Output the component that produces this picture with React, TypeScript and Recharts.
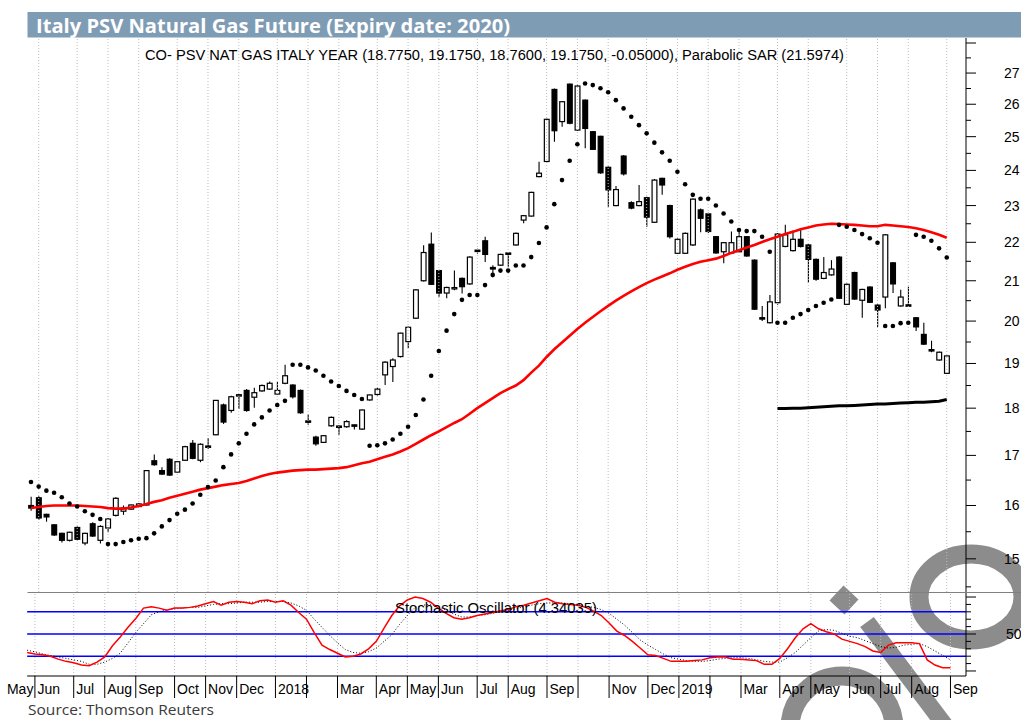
import React from 'react';
import { ComposedChart, Bar, Line, XAxis, YAxis, ReferenceLine } from 'recharts';

// ---------- DATA (weekly candles, Fri 26 May 2017 .. Fri 6 Sep 2019) ----------
const opens = [
  16.00, 16.15, 15.83, 15.63, 15.47, 15.34, 15.58, 15.29, 15.65, 15.34,
  15.57, 15.81, 15.89, 15.93, 15.98, 16.01, 16.89, 16.69, 16.92, 16.66,
  16.90, 17.25, 16.90, 17.19, 17.43, 18.07, 17.95, 18.27, 18.39, 18.24,
  18.38, 18.42, 18.31, 18.55, 18.51, 18.39, 17.72, 17.38, 17.27, 17.62,
  17.61, 17.60, 17.63, 17.55, 18.18, 18.30, 18.74, 18.93, 19.16, 19.51,
  20.07, 21.00, 21.95, 21.26, 20.69, 20.80, 21.06, 20.92, 21.79, 22.04,
  21.34, 21.40, 21.71, 21.93, 22.60, 22.71, 23.82, 24.26, 26.47, 25.46,
  26.64, 25.20, 26.13, 25.15, 25.01, 24.09, 23.00, 24.42, 23.08, 23.00,
  23.22, 22.54, 23.77, 23.00, 21.71, 21.71, 21.93, 22.88, 22.77, 22.15,
  21.75, 21.72, 21.75, 22.15, 21.53, 20.08, 19.96, 20.45, 21.89, 21.78,
  22.08, 21.93, 21.55, 21.06, 21.15, 21.61, 20.41, 21.21, 20.51, 20.84,
  20.39, 20.59, 21.46, 20.37, 20.39, 20.08, 19.68, 19.32, 19.08, 18.775,
];
const highs = [
  16.17, 16.18, 15.84, 15.64, 15.48, 15.50, 15.60, 15.48, 15.68, 15.62,
  15.76, 16.16, 16.00, 16.02, 16.05, 16.70, 17.02, 16.76, 16.94, 16.88,
  17.20, 17.32, 17.25, 17.36, 18.18, 18.10, 18.27, 18.31, 18.42, 18.45,
  18.52, 18.59, 18.58, 18.97, 18.53, 18.41, 17.86, 17.41, 17.42, 17.82,
  17.63, 17.74, 17.64, 17.97, 18.30, 18.45, 19.05, 19.12, 19.72, 19.87,
  20.79, 21.92, 22.26, 21.28, 20.85, 21.26, 21.08, 21.63, 21.83, 22.15,
  21.40, 21.70, 21.73, 22.26, 22.74, 23.39, 24.25, 25.55, 26.50, 26.10,
  26.66, 26.60, 26.15, 25.17, 25.03, 24.11, 23.55, 24.45, 23.12, 23.58,
  23.25, 23.75, 23.79, 23.02, 22.10, 22.26, 23.20, 22.92, 22.80, 22.17,
  22.01, 22.29, 22.38, 22.17, 21.55, 20.37, 20.64, 22.25, 22.47, 22.32,
  22.34, 21.95, 21.57, 21.61, 21.53, 21.63, 20.93, 21.23, 20.80, 20.86,
  20.41, 22.22, 21.48, 20.77, 20.85, 20.10, 19.96, 19.53, 19.28, 19.175,
];
const lows = [
  15.90, 15.72, 15.69, 15.42, 15.30, 15.32, 15.34, 15.25, 15.40, 15.28,
  15.49, 15.79, 15.82, 15.92, 15.97, 16.00, 16.79, 16.60, 16.58, 16.65,
  16.89, 16.92, 16.86, 17.13, 17.42, 17.66, 17.90, 17.98, 17.92, 18.01,
  18.36, 18.40, 18.30, 18.53, 18.21, 17.88, 17.64, 17.20, 17.26, 17.60,
  17.43, 17.58, 17.54, 17.53, 18.16, 18.28, 18.51, 18.58, 19.14, 19.36,
  20.05, 20.98, 20.89, 20.60, 20.56, 20.76, 20.68, 20.90, 21.70, 21.48,
  21.09, 21.38, 21.36, 21.91, 22.51, 22.70, 23.80, 24.24, 24.85, 25.30,
  25.38, 25.18, 24.65, 24.60, 23.90, 22.97, 22.98, 23.85, 22.90, 22.98,
  22.42, 22.52, 23.30, 22.10, 21.70, 21.69, 21.90, 22.27, 22.25, 21.70,
  21.45, 21.70, 21.73, 21.62, 20.27, 20.00, 19.94, 20.40, 21.87, 21.76,
  21.86, 20.95, 21.00, 21.04, 21.13, 20.54, 20.39, 20.52, 20.08, 20.44,
  19.86, 20.31, 20.69, 20.35, 20.36, 19.76, 19.43, 19.26, 19.06, 18.76,
];
const closes = [
  15.95, 15.76, 15.78, 15.44, 15.34, 15.49, 15.36, 15.47, 15.42, 15.60,
  15.74, 16.14, 15.95, 16.01, 16.03, 16.69, 16.81, 16.62, 16.60, 16.87,
  17.18, 16.94, 17.23, 17.17, 18.17, 17.70, 18.25, 18.29, 17.95, 18.34,
  18.50, 18.55, 18.39, 18.72, 18.25, 17.90, 17.70, 17.24, 17.41, 17.80,
  17.59, 17.71, 17.62, 17.96, 18.29, 18.42, 19.03, 19.08, 19.71, 19.85,
  20.77, 21.73, 20.91, 20.69, 20.83, 20.82, 20.85, 21.61, 21.76, 21.68,
  21.30, 21.68, 21.69, 22.24, 22.72, 23.37, 23.92, 25.53, 25.18, 26.08,
  25.41, 26.58, 25.25, 24.62, 23.93, 23.44, 23.45, 23.90, 22.93, 23.11,
  22.68, 23.72, 23.58, 22.15, 22.08, 22.24, 23.18, 22.65, 22.29, 21.72,
  21.99, 21.99, 22.15, 21.64, 20.29, 20.05, 20.47, 22.22, 22.20, 22.08,
  21.89, 21.55, 21.04, 21.21, 21.30, 20.56, 20.91, 20.54, 20.78, 20.46,
  20.27, 22.20, 20.92, 20.59, 20.37, 19.86, 19.45, 19.29, 19.26, 19.175,
];
const sar = [
  16.46, 16.37, 16.29, 16.25, 16.16, 16.04, 15.98, 15.89, 15.82, 15.74,
  15.27, 15.27, 15.31, 15.34, 15.37, 15.38, 15.47, 15.60, 15.72, 15.84,
  15.92, 16.04, 16.21, 16.36, 16.49, 16.76, 17.02, 17.25, 17.45, 17.65,
  17.80, 17.95, 18.07, 18.16, 18.97, 18.97, 18.91, 18.84, 18.72, 18.59,
  18.49, 18.38, 18.29, 18.20, 17.20, 17.21, 17.25, 17.33, 17.45, 17.60,
  17.85, 18.19, 18.72, 19.29, 19.77, 20.17, 20.52, 20.64, 20.64, 20.89,
  21.15, 21.26, 21.26, 21.39, 21.39, 21.61, 21.98, 22.40, 23.04, 23.72,
  24.28, 24.77, 26.66, 26.61, 26.51, 26.38, 26.13, 25.87, 25.61, 25.35,
  25.10, 24.82, 24.53, 24.28, 23.96, 23.60, 23.30, 23.19, 23.19, 23.00,
  22.78, 22.56, 22.33, 22.30, 22.30, 22.15, 21.75, 19.96, 19.96, 20.08,
  20.17, 20.27, 20.37, 20.45, 20.53, 22.47, 22.42, 22.33, 22.22, 22.11,
  21.99, 19.88, 19.88, 19.95, 19.96, 22.20, 22.15, 22.04, 21.84, 21.60,
];
const movingAvg = [
  15.95, 15.97, 15.99, 16.00, 16.00, 16.00, 16.00, 15.99, 15.98, 15.97,
  15.95, 15.94, 15.94, 15.96, 15.99, 16.03, 16.07, 16.10, 16.15, 16.19,
  16.23, 16.27, 16.31, 16.34, 16.37, 16.40, 16.42, 16.44, 16.48, 16.53,
  16.58, 16.62, 16.65, 16.67, 16.69, 16.70, 16.71, 16.71, 16.72, 16.73,
  16.74, 16.76, 16.80, 16.84, 16.87, 16.92, 16.97, 17.02, 17.08, 17.15,
  17.24, 17.33, 17.42, 17.50, 17.59, 17.68, 17.76, 17.88, 18.00, 18.11,
  18.22, 18.33, 18.42, 18.50, 18.62, 18.79, 18.95, 19.15, 19.33, 19.49,
  19.65, 19.81, 19.96, 20.10, 20.24, 20.37, 20.50, 20.62, 20.73, 20.84,
  20.94, 21.03, 21.11, 21.19, 21.28, 21.36, 21.43, 21.49, 21.53, 21.57,
  21.64, 21.72, 21.79, 21.86, 21.93, 22.01, 22.08, 22.15, 22.22, 22.28,
  22.35, 22.40, 22.45, 22.48, 22.50, 22.49, 22.48, 22.47, 22.45, 22.43,
  22.43, 22.47, 22.45, 22.43, 22.41, 22.38, 22.33, 22.27, 22.20, 22.12,
];
const levelStart = 97;
const levelValues = [
  17.99, 17.99, 18.00, 18.00, 18.01, 18.02, 18.03, 18.04, 18.05, 18.05,
  18.06, 18.07, 18.08, 18.09, 18.09, 18.10, 18.11, 18.12, 18.13, 18.13,
  18.14, 18.15, 18.19,
];
const stochK = [
  25, 23, 22, 20, 16, 13, 11, 8, 7, 12,
  19, 34, 46, 59, 71, 85, 87, 85, 82, 85,
  85, 86, 88, 91, 94, 89, 93, 94, 93, 91,
  95, 96, 93, 95, 89, 79, 70, 52, 35, 29,
  24, 19, 20, 23, 30, 40, 58, 75, 88, 96,
  100, 98, 93, 85, 78, 72, 70, 72, 75, 77,
  79, 81, 83, 87, 89, 92, 95, 98, 93, 91,
  90, 89, 86, 81, 75, 65, 54, 48, 40, 31,
  22, 21, 17, 13, 13, 13, 14, 15, 18, 19,
  19, 16, 16, 15, 14, 9, 9, 17, 30, 45,
  57, 64, 57, 53, 50, 43, 40, 37, 33, 27,
  25, 35, 38, 38, 38, 37, 15, 8, 4.5, 4.34,
];
const stochD = [
  28, 26, 23, 21, 19, 17, 15, 13, 9, 9,
  12, 17, 24, 38, 52, 64, 76, 80, 83, 84,
  85, 86, 86, 88, 90, 91, 91, 92, 93, 93,
  93, 94, 94, 94, 92, 88, 82, 70, 59, 48,
  38, 29, 25, 24, 26, 31, 40, 49, 63, 75,
  86, 89, 90, 87, 82, 77, 73, 73, 75, 76,
  78, 80, 82, 84, 87, 89, 91, 92, 92, 92,
  91, 90, 88, 86, 83, 78, 70, 62, 52, 42,
  35, 29, 23, 18, 16, 14, 13, 13, 14, 16,
  17, 18, 18, 17, 15, 13, 12, 12, 18, 25,
  35, 45, 54, 56, 55, 51, 47, 45, 41, 37,
  33, 31, 32, 35, 36, 37, 33, 27, 21, 15,
];
const monthTicks = [
  { i: -3, label: 'May' }, { i: 1, label: 'Jun' }, { i: 6, label: 'Jul' }, { i: 10, label: 'Aug' },
  { i: 14, label: 'Sep' }, { i: 19, label: 'Oct' }, { i: 23, label: 'Nov' }, { i: 27, label: 'Dec' },
  { i: 32, label: '2018' }, { i: 36, label: '' }, { i: 40, label: 'Mar' }, { i: 45, label: 'Apr' },
  { i: 49, label: 'May' }, { i: 53, label: 'Jun' }, { i: 58, label: 'Jul' }, { i: 62, label: 'Aug' },
  { i: 67, label: 'Sep' }, { i: 71, label: '' }, { i: 75, label: 'Nov' }, { i: 80, label: 'Dec' },
  { i: 84, label: '2019' }, { i: 88, label: '' }, { i: 92, label: 'Mar' }, { i: 97, label: 'Apr' },
  { i: 101, label: 'May' }, { i: 106, label: 'Jun' }, { i: 110, label: 'Jul' }, { i: 114, label: 'Aug' },
  { i: 119, label: 'Sep' },
];
const priceMajor = [15, 16, 17, 18, 19, 20, 21, 22, 23, 24, 25, 26, 27, 28];
const priceMinor = [14.5, 15.5, 16.5, 17.5, 18.5, 19.5, 20.5, 21.5, 22.5, 23.5, 24.5, 25.5, 26.5, 27.5];
const priceLabelMax = 27;
const stochTickValues = [0, 10, 20, 30, 40, 50, 60, 70, 80, 90, 100];
const stochMajor = [0, 50, 100];
const stochLabels = [50];
const stochBands = [20, 50, 80];

const TITLE = 'Italy PSV Natural Gas Future (Expiry date: 2020)';
const SUBTITLE = 'CO- PSV NAT GAS ITALY YEAR (18.7750, 19.1750, 18.7600, 19.1750, -0.05000), Parabolic SAR (21.5974)';
const STOCH_LABEL = 'Stochastic Oscillator (4.34035)';
const SOURCE = 'Source: Thomson Reuters';

// ---------- table built from the arrays ----------
const EXTRA_SLOTS = 2;
const rows = Array.from({ length: opens.length + EXTRA_SLOTS }, (_, i) => {
  if (i >= opens.length) return { i } as any;
  return {
    i,
    open: opens[i],
    high: highs[i],
    low: lows[i],
    close: closes[i],
    range: [lows[i], highs[i]],
    sar: sar[i],
    ma: movingAvg[i],
    level: i >= levelStart ? levelValues[i - levelStart] : null,
    k: stochK[i],
    d: stochD[i],
  };
});
const visibleTicks = monthTicks.filter((t) => t.i >= 0).map((t) => t.i);
const leadTick = monthTicks.find((t) => t.i < 0);

const AXIS_FONT = 'Liberation Sans, Arial, sans-serif';
const LEFT = 27.15;
const AXIS_W = 55;
const WIDTH = 1021;

const Candle = (props: any) => {
  const { x, y, width, height, payload } = props;
  if (!payload || payload.open == null || !isFinite(y) || !isFinite(height)) return null;
  const { open, close, high, low } = payload;
  const lh = Math.log(high);
  const ll = Math.log(low);
  const py = (v: number) => (lh === ll ? y : y + ((lh - Math.log(v)) / (lh - ll)) * height);
  const cx = x + width / 2;
  const up = close >= open;
  let top = py(Math.max(open, close));
  let bot = py(Math.min(open, close));
  if (bot - top < 1.4) {
    const m = (top + bot) / 2;
    top = m - 0.7;
    bot = m + 0.7;
  }
  return (
    <g>
      <line x1={cx} x2={cx} y1={y} y2={y + height} stroke="#000" strokeWidth={1.1} />
      <rect x={x + 0.6} y={top} width={width - 1.2} height={bot - top} fill={up ? '#fff' : '#000'} stroke="#000" strokeWidth={1.2} />
    </g>
  );
};

const PriceTick = (props: any) => {
  const { x, y, payload } = props;
  const v = payload.value;
  const major = priceMajor.includes(v);
  return (
    <g>
      <line x1={x} x2={x + (major ? 10 : 5)} y1={y} y2={y} stroke="#000" strokeWidth={1} />
      {major && v <= priceLabelMax ? (
        <text x={x + 38} y={y + 5} fontSize={14} fontFamily={AXIS_FONT} fill="#000">{v}</text>
      ) : null}
    </g>
  );
};

const StochTick = (props: any) => {
  const { x, y, payload } = props;
  const v = payload.value;
  const major = stochMajor.includes(v);
  return (
    <g>
      <line x1={x} x2={x + (major ? 10 : 5)} y1={y} y2={y} stroke="#000" strokeWidth={1} />
      {stochLabels.includes(v) ? (
        <text x={x + 40} y={y + 5} fontSize={14} fontFamily={AXIS_FONT} fill="#000">{v}</text>
      ) : null}
    </g>
  );
};

const MonthTick = (props: any) => {
  const { x, y, payload } = props;
  const t = monthTicks.find((m) => m.i === payload.value);
  const isFirst = payload.value === visibleTicks[0];
  return (
    <g>
      <line x1={x} x2={x} y1={y} y2={y + 22} stroke="#000" strokeWidth={1} />
      {t && t.label ? (
        <text x={x + 2.5} y={y + 18} fontSize={14} fontFamily={AXIS_FONT} fill="#000">{t.label}</text>
      ) : null}
      {isFirst && leadTick ? (
        <text x={x - 1.5} y={y + 18} fontSize={14} fontFamily={AXIS_FONT} fill="#000" textAnchor="end">{leadTick.label}</text>
      ) : null}
    </g>
  );
};

export default function App() {
  return (
    <div style={{ position: 'absolute', left: 0, top: 0, width: WIDTH, height: 720, background: '#fff', overflow: 'hidden' }}>
      {/* watermark (behind) */}
      <svg width={WIDTH} height={720} style={{ position: 'absolute', left: 0, top: 0 }}>
        <g fill="#8c8c8c">
          <rect x={-10.25} y={-10.25} width={20.5} height={20.5} transform="translate(844,600) rotate(43)" />
          <rect x={-8.5} y={0} width={17} height={170} transform="translate(867,622) rotate(-37)" />
        </g>
        <ellipse cx={971} cy={597} rx={52} ry={43} fill="none" stroke="#8c8c8c" strokeWidth={19} />
        <ellipse cx={842} cy={728} rx={52} ry={52} fill="none" stroke="#8c8c8c" strokeWidth={19} />
      </svg>

      {/* price panel */}
      <div style={{ position: 'absolute', left: 0, top: 0 }}>
        <ComposedChart width={WIDTH} height={592} data={rows} margin={{ top: 38, right: 0, bottom: 0, left: LEFT }}>
          <XAxis dataKey="i" type="category" hide />
          <YAxis
            yAxisId="p"
            orientation="right"
            scale="log"
            type="number"
            domain={[14.41, 28.17]}
            allowDataOverflow
            ticks={[...priceMinor, ...priceMajor].sort((a, b) => a - b)}
            interval={0}
            width={AXIS_W}
            tickSize={0}
            tickMargin={0}
            tickLine={false}
            axisLine={{ stroke: '#000', strokeWidth: 1 }}
            tick={(p: any) => <PriceTick {...p} />}
          />
          {visibleTicks.map((t) => (
            <ReferenceLine key={'g' + t} yAxisId="p" x={t} stroke="#bdbdbd" strokeDasharray="1 2" strokeWidth={1} />
          ))}
          <Line yAxisId="p" dataKey="ma" stroke="#ff0000" strokeWidth={2.6} dot={false} activeDot={false} isAnimationActive={false} />
          <Line yAxisId="p" dataKey="level" stroke="#000" strokeWidth={3} dot={false} activeDot={false} isAnimationActive={false} />
          <Bar yAxisId="p" dataKey="range" barSize={6} isAnimationActive={false} shape={(p: any) => <Candle {...p} />} />
          <Line
            yAxisId="p"
            dataKey="sar"
            stroke="none"
            dot={{ r: 2.3, fill: '#000', stroke: 'none' }}
            activeDot={false}
            isAnimationActive={false}
          />
        </ComposedChart>
      </div>

      {/* stochastic panel */}
      <div style={{ position: 'absolute', left: 0, top: 592 }}>
        <ComposedChart width={WIDTH} height={128} data={rows} margin={{ top: 0, right: 0, bottom: 0, left: LEFT }}>
          <XAxis
            dataKey="i"
            type="category"
            ticks={visibleTicks}
            interval={0}
            height={44}
            tickSize={0}
            tickMargin={0}
            tickLine={false}
            axisLine={{ stroke: '#000', strokeWidth: 1 }}
            tick={(p: any) => <MonthTick {...p} />}
          />
          <YAxis
            yAxisId="s"
            orientation="right"
            type="number"
            domain={[-6.8, 106.8]}
            allowDataOverflow
            ticks={stochTickValues}
            interval={0}
            width={AXIS_W}
            tickSize={0}
            tickMargin={0}
            tickLine={false}
            axisLine={{ stroke: '#000', strokeWidth: 1 }}
            tick={(p: any) => <StochTick {...p} />}
          />
          {visibleTicks.map((t) => (
            <ReferenceLine key={'s' + t} yAxisId="s" x={t} stroke="#bdbdbd" strokeDasharray="1 2" strokeWidth={1} />
          ))}
          {stochBands.map((b) => (
            <ReferenceLine key={'b' + b} yAxisId="s" y={b} stroke="#0000ff" strokeWidth={1.6} />
          ))}
          <Line yAxisId="s" dataKey="d" stroke="#000" strokeWidth={1} strokeDasharray="1 2" dot={false} activeDot={false} isAnimationActive={false} />
          <Line yAxisId="s" dataKey="k" stroke="#ff0000" strokeWidth={1.5} dot={false} activeDot={false} isAnimationActive={false} />
        </ComposedChart>
      </div>

      {/* texts and frame */}
      <svg width={WIDTH} height={720} style={{ position: 'absolute', left: 0, top: 0, pointerEvents: 'none' }}>
        <rect x={27.5} y={12} width={WIDTH - 27.5} height={25.5} fill="#7f9cb5" />
        <text x={36} y={32.5} fill="#fff" fontSize={20} fontWeight={700} fontFamily="Open Sans, Noto Sans, sans-serif" textLength={474} lengthAdjust="spacingAndGlyphs">
          {TITLE}
        </text>
        <text x={145} y={59.5} fill="#000" fontSize={14} fontFamily={AXIS_FONT} textLength={699} lengthAdjust="spacingAndGlyphs">
          {SUBTITLE}
        </text>
        <line x1={27.5} x2={WIDTH} y1={592.5} y2={592.5} stroke="#808080" strokeWidth={1} />
        <text x={395} y={612.5} fill="#000" fontSize={15} fontFamily={AXIS_FONT} textLength={202} lengthAdjust="spacingAndGlyphs">
          {STOCH_LABEL}
        </text>
        <text x={28} y={714.5} fill="#3a3a3a" fontSize={14.5} fontFamily="Open Sans, Noto Sans, sans-serif" textLength={186} lengthAdjust="spacingAndGlyphs">
          {SOURCE}
        </text>
      </svg>
    </div>
  );
}
